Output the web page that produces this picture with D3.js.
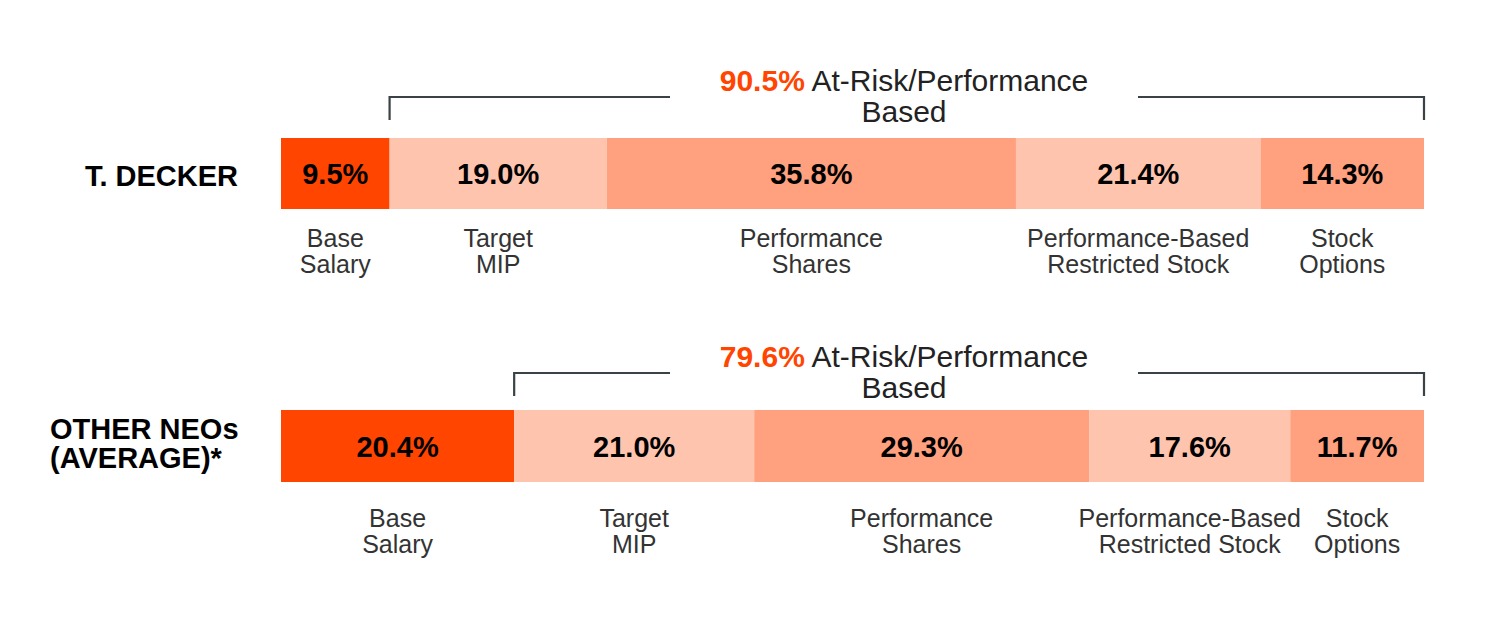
<!DOCTYPE html>
<html>
<head>
<meta charset="utf-8">
<script src="https://cdn.jsdelivr.net/npm/d3@7"></script>
<style>
  html, body { margin: 0; padding: 0; background: #fff; }
  svg { display: block; font-family: "Liberation Sans", Arial, Helvetica, sans-serif; }
</style>
</head>
<body>
<svg id="chart" width="1500" height="638"></svg>
<script>
// ---- Data ----
const rowNames = ["T. DECKER", "OTHER NEOs (AVERAGE)*"];
const rowLabelLines = [["T. DECKER"], ["OTHER NEOs", "(AVERAGE)*"]];
const components = ["Base Salary", "Target MIP", "Performance Shares", "Performance-Based Restricted Stock", "Stock Options"];
const componentLines = [["Base", "Salary"], ["Target", "MIP"], ["Performance", "Shares"], ["Performance-Based", "Restricted Stock"], ["Stock", "Options"]];
const deckerValues = [9.5, 19.0, 35.8, 21.4, 14.3];
const otherNeoValues = [20.4, 21.0, 29.3, 17.6, 11.7];
const atRiskTotals = [90.5, 79.6];
const atRiskText = ["At-Risk/Performance", "Based"];
const componentColors = ["#FF4500", "#FFC4AE", "#FFA07F", "#FFC4AE", "#FFA07F"];

const seriesValues = [deckerValues, otherNeoValues];

// ---- Layout ----
const svg = d3.select("#chart");
const x = d3.scaleLinear().domain([0, 100]).range([281, 1424]);
const rowLayout = [
  { barTop: 138, barH: 71, bracketY: 97, bracketBottom: 120, titleY: 91, labelY: 247, rowLabelY: [186], rowLabelX: 238, rowAnchor: "end" },
  { barTop: 410, barH: 72, bracketY: 373, bracketBottom: 396, titleY: 367, labelY: 527, rowLabelY: [439, 468], rowLabelX: 50, rowAnchor: "start" }
];
const titleCx = 904, halfGap = 234;

seriesValues.forEach((vals, r) => {
  const L = rowLayout[r];
  const stack = [];
  let acc = 0;
  vals.forEach((v, i) => { stack.push({ i, v, x0: acc, x1: acc + v }); acc += v; });

  const g = svg.append("g").attr("class", "row").attr("data-row", rowNames[r]);

  // Row label
  const rl = g.append("text")
    .attr("x", L.rowLabelX)
    .attr("text-anchor", L.rowAnchor)
    .attr("font-size", 29).attr("font-weight", "bold").attr("fill", "#000");
  rowLabelLines[r].forEach((line, k) => {
    rl.append("tspan").attr("x", L.rowLabelX).attr("y", L.rowLabelY[k]).text(line);
  });

  // Bar segments
  g.selectAll("rect.seg").data(stack).join("rect")
    .attr("class", "seg")
    .attr("x", d => x(d.x0))
    .attr("width", d => x(d.x1) - x(d.x0))
    .attr("y", L.barTop)
    .attr("height", L.barH)
    .attr("fill", d => componentColors[d.i]);

  // Value labels
  g.selectAll("text.val").data(stack).join("text")
    .attr("class", "val")
    .attr("x", d => (x(d.x0) + x(d.x1)) / 2)
    .attr("y", L.barTop + L.barH / 2 + 10.5)
    .attr("text-anchor", "middle")
    .attr("font-size", 29).attr("font-weight", "bold").attr("fill", "#000")
    .text(d => d.v.toFixed(1) + "%");

  // Component labels
  const cl = g.selectAll("text.comp").data(stack).join("text")
    .attr("class", "comp")
    .attr("text-anchor", "middle")
    .attr("font-size", 25).attr("fill", "#333");
  cl.each(function (d) {
    const t = d3.select(this);
    const cx = (x(d.x0) + x(d.x1)) / 2;
    componentLines[d.i].forEach((line, k) => {
      t.append("tspan").attr("x", cx).attr("y", L.labelY + k * 26).text(line);
    });
  });

  // Bracket over at-risk components (all but base salary)
  const bx0 = x(stack[1].x0), bx1 = x(stack[stack.length - 1].x1);
  const bracket = d3.path();
  bracket.moveTo(bx0, L.bracketBottom);
  bracket.lineTo(bx0, L.bracketY);
  bracket.lineTo(titleCx - halfGap, L.bracketY);
  bracket.moveTo(titleCx + halfGap, L.bracketY);
  bracket.lineTo(bx1, L.bracketY);
  bracket.lineTo(bx1, L.bracketBottom);
  g.append("path").attr("d", bracket.toString())
    .attr("fill", "none").attr("stroke", "#3a4245").attr("stroke-width", 2.2);

  // At-risk title (two lines in one text element)
  const tt = g.append("text")
    .attr("text-anchor", "middle").attr("font-size", 30).attr("fill", "#222");
  const line1 = tt.append("tspan").attr("x", titleCx).attr("y", L.titleY);
  line1.append("tspan").attr("font-weight", "bold").attr("fill", "#FF4500")
    .text(atRiskTotals[r].toFixed(1) + "%");
  line1.append("tspan").text(" " + atRiskText[0]);
  tt.append("tspan").attr("x", titleCx).attr("y", L.titleY + 31).text(atRiskText[1]);
});
</script>
</body>
</html>
